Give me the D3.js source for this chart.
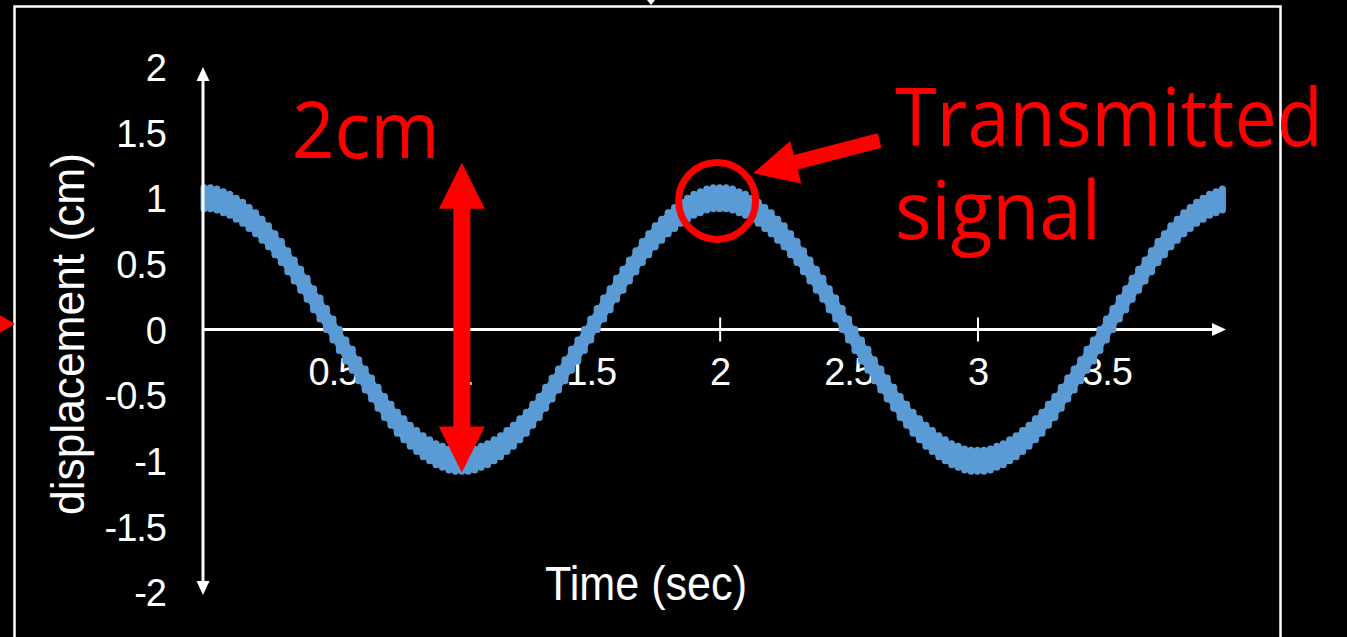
<!DOCTYPE html>
<html><head><meta charset="utf-8">
<script src="https://cdn.jsdelivr.net/npm/d3@7"></script>
<style>html,body{margin:0;padding:0;background:#000;overflow:hidden}</style>
</head><body><svg id="c" width="1347" height="637"></svg>
<script>
// ---------- DATA ----------
const times = [
0,0.025,0.05,0.075,0.1,0.125,0.15,0.175,
0.2,0.225,0.25,0.275,0.3,0.325,0.35,0.375,
0.4,0.425,0.45,0.475,0.5,0.525,0.55,0.575,
0.6,0.625,0.65,0.675,0.7,0.725,0.75,0.775,
0.8,0.825,0.85,0.875,0.9,0.925,0.95,0.975,
1,1.025,1.05,1.075,1.1,1.125,1.15,1.175,
1.2,1.225,1.25,1.275,1.3,1.325,1.35,1.375,
1.4,1.425,1.45,1.475,1.5,1.525,1.55,1.575,
1.6,1.625,1.65,1.675,1.7,1.725,1.75,1.775,
1.8,1.825,1.85,1.875,1.9,1.925,1.95,1.975,
2,2.025,2.05,2.075,2.1,2.125,2.15,2.175,
2.2,2.225,2.25,2.275,2.3,2.325,2.35,2.375,
2.4,2.425,2.45,2.475,2.5,2.525,2.55,2.575,
2.6,2.625,2.65,2.675,2.7,2.725,2.75,2.775,
2.8,2.825,2.85,2.875,2.9,2.925,2.95,2.975,
3,3.025,3.05,3.075,3.1,3.125,3.15,3.175,
3.2,3.225,3.25,3.275,3.3,3.325,3.35,3.375,
3.4,3.425,3.45,3.475,3.5,3.525,3.55,3.575,
3.6,3.625,3.65,3.675,3.7,3.725,3.75,3.775,
3.8,3.825,3.85,3.875,3.9,3.925,3.95
];
const displacement = [
1,1,0.99,0.97,0.95,0.92,0.89,0.85,
0.81,0.76,0.71,0.65,0.59,0.52,0.45,0.38,
0.31,0.23,0.16,0.08,0,-0.08,-0.16,-0.23,
-0.31,-0.38,-0.45,-0.52,-0.59,-0.65,-0.71,-0.76,
-0.81,-0.85,-0.89,-0.92,-0.95,-0.97,-0.99,-1,
-1,-1,-0.99,-0.97,-0.95,-0.92,-0.89,-0.85,
-0.81,-0.76,-0.71,-0.65,-0.59,-0.52,-0.45,-0.38,
-0.31,-0.23,-0.16,-0.08,0,0.08,0.16,0.23,
0.31,0.38,0.45,0.52,0.59,0.65,0.71,0.76,
0.81,0.85,0.89,0.92,0.95,0.97,0.99,1,
1,1,0.99,0.97,0.95,0.92,0.89,0.85,
0.81,0.76,0.71,0.65,0.59,0.52,0.45,0.38,
0.31,0.23,0.16,0.08,0,-0.08,-0.16,-0.23,
-0.31,-0.38,-0.45,-0.52,-0.59,-0.65,-0.71,-0.76,
-0.81,-0.85,-0.89,-0.92,-0.95,-0.97,-0.99,-1,
-1,-1,-0.99,-0.97,-0.95,-0.92,-0.89,-0.85,
-0.81,-0.76,-0.71,-0.65,-0.59,-0.52,-0.45,-0.38,
-0.31,-0.23,-0.16,-0.08,0,0.08,0.16,0.23,
0.31,0.38,0.45,0.52,0.59,0.65,0.71,0.76,
0.81,0.85,0.89,0.92,0.95,0.97,0.99
];
const xTickValues = [0.5,1,1.5,2,2.5,3,3.5];
const yTickValues = [-2,-1.5,-1,-0.5,0,0.5,1,1.5,2];
const xAxisTitle = "Time (sec)";
const yAxisTitle = "displacement (cm)";
const amplitudeText = "2cm";
const signalText = ["Transmitted","signal"];
// annotation anchors (data units)
const amplitudeArrow = {t:1, top:1.27, bottom:-1.09};
const signalCircle = {t:1.99, v:0.98};
const signalArrow = {tipT:2.13, tipV:1.19, tailT:2.62, tailV:1.44};

// ---------- CHART ----------
const svg = d3.select("#c");
svg.append("rect").attr("width",1347).attr("height",637).attr("fill","#000");

const x = d3.scaleLinear().domain([0,3.96]).range([204,1225]);
const y = d3.scaleLinear().domain([-2,2]).range([592,67]);
const tickFont = "'Liberation Sans', Arial, Helvetica, sans-serif";
const redFont = "'Open Sans', sans-serif";
const blue = "#5B9BD5", red = "#FF0000";

// frame
svg.append("rect").attr("x",14.5).attr("y",6.5).attr("width",1266).attr("height",700)
  .attr("fill","none").attr("stroke","#fff").attr("stroke-width",2.5);
svg.append("path").attr("d","M647,0L655,0L651,5Z").attr("fill","#fff");
svg.append("path").attr("d","M-2,314L15,324L-2,334Z").attr("fill",red);

// x axis line + arrow
const y0 = y(0);
svg.append("line").attr("x1",203).attr("x2",1214).attr("y1",y0).attr("y2",y0)
  .attr("stroke","#fff").attr("stroke-width",3);
svg.append("path").attr("d",`M1212,${y0-6.5}L1226,${y0}L1212,${y0+6.5}Z`).attr("fill","#fff");

const gx = svg.append("g").attr("transform",`translate(0,${y0})`)
  .call(d3.axisBottom(x).tickValues(xTickValues).tickSize(12).tickFormat(d=>String(d)));
gx.select(".domain").remove();
gx.selectAll(".tick line").attr("y1",-12).attr("y2",12).attr("stroke","#fff").attr("stroke-width",2);
gx.selectAll(".tick text").attr("y",42).attr("dy","0.36em").attr("fill","#fff")
  .style("font-family",tickFont).style("font-size","38px").style("letter-spacing","-1px");

// y axis labels
const gy = svg.append("g").attr("transform","translate(203,0)")
  .call(d3.axisLeft(y).tickValues(yTickValues).tickSize(0).tickFormat(d=>String(d)));
gy.select(".domain").remove();
gy.selectAll(".tick text").attr("x",-37).attr("dy","0.36em").attr("fill","#fff")
  .style("font-family",tickFont).style("font-size","38px").style("letter-spacing","-1px");

// axis titles
svg.append("text").attr("x",646).attr("y",600).attr("text-anchor","middle")
  .attr("textLength",202).attr("lengthAdjust","spacingAndGlyphs")
  .style("font-family",tickFont).style("font-size","49px").attr("fill","#fff").text(xAxisTitle);
svg.append("text").attr("transform","translate(84,334) rotate(-90)").attr("text-anchor","middle")
  .attr("textLength",362).attr("lengthAdjust","spacingAndGlyphs")
  .style("font-family",tickFont).style("font-size","47px").attr("fill","#fff").text(yAxisTitle);

// curve: solid band + thick vertical markers
const pts = times.map((t,i)=>({t, v:displacement[i]}));
svg.append("path").datum(pts)
  .attr("d", d3.area().x(d=>x(d.t)).y0(d=>y(d.v)+12).y1(d=>y(d.v)-12))
  .attr("fill",blue);
svg.append("g").selectAll("rect").data(pts).join("rect")
  .attr("x",d=>x(d.t)-3.5).attr("y",d=>y(d.v)-14).attr("width",7).attr("height",28)
  .attr("rx",3.5).attr("fill",blue);

// y axis line + arrows on top
svg.append("line").attr("x1",203).attr("x2",203).attr("y1",79).attr("y2",583)
  .attr("stroke","#fff").attr("stroke-width",3);
svg.append("path").attr("d","M196.5,81L203,67L209.5,81Z").attr("fill","#fff");
svg.append("path").attr("d","M196.5,581L203,595L209.5,581Z").attr("fill","#fff");

// red double arrow
{
  const ax = x(amplitudeArrow.t), yt = y(amplitudeArrow.top), yb = y(amplitudeArrow.bottom);
  const hw = 23, hl = 46, sw = 8.5;
  const p = [[ax,yt],[ax+hw,yt+hl],[ax+sw,yt+hl],[ax+sw,yb-hl],[ax+hw,yb-hl],[ax,yb],
             [ax-hw,yb-hl],[ax-sw,yb-hl],[ax-sw,yt+hl],[ax-hw,yt+hl]];
  svg.append("path").attr("d","M"+p.map(q=>q.join(",")).join("L")+"Z").attr("fill",red);
}
// circle
svg.append("circle").attr("cx",x(signalCircle.t)).attr("cy",y(signalCircle.v)).attr("r",38.5)
  .attr("fill","none").attr("stroke",red).attr("stroke-width",7);
// signal arrow
{
  const tx = x(signalArrow.tipT), ty = y(signalArrow.tipV);
  const ex = x(signalArrow.tailT), ey = y(signalArrow.tailV);
  const L = Math.hypot(ex-tx, ey-ty), ux=(ex-tx)/L, uy=(ey-ty)/L, nx=-uy, ny=ux;
  const hl = 44, hw = 22, sw = 7.5;
  const bx = tx+ux*hl, by = ty+uy*hl;
  const p = [[tx,ty],[bx+nx*hw,by+ny*hw],[bx+nx*sw,by+ny*sw],[ex+nx*sw,ey+ny*sw],
             [ex-nx*sw,ey-ny*sw],[bx-nx*sw,by-ny*sw],[bx-nx*hw,by-ny*hw]];
  svg.append("path").attr("d","M"+p.map(q=>q.join(",")).join("L")+"Z").attr("fill",red);
}
// red texts
svg.append("text").attr("x",x(0.34)).attr("y",y(1.31)).attr("textLength",148).attr("lengthAdjust","spacingAndGlyphs")
  .style("font-family",redFont).style("font-size","78px").attr("fill",red).text(amplitudeText);
svg.append("text").attr("x",x(2.68)).attr("y",y(1.398)).attr("textLength",428).attr("lengthAdjust","spacingAndGlyphs")
  .style("font-family",redFont).style("font-size","81px").attr("fill",red).text(signalText[0]);
svg.append("text").attr("x",x(2.68)).attr("y",y(0.69)).attr("textLength",206).attr("lengthAdjust","spacingAndGlyphs")
  .style("font-family",redFont).style("font-size","81px").attr("fill",red).text(signalText[1]);
</script></body></html>
